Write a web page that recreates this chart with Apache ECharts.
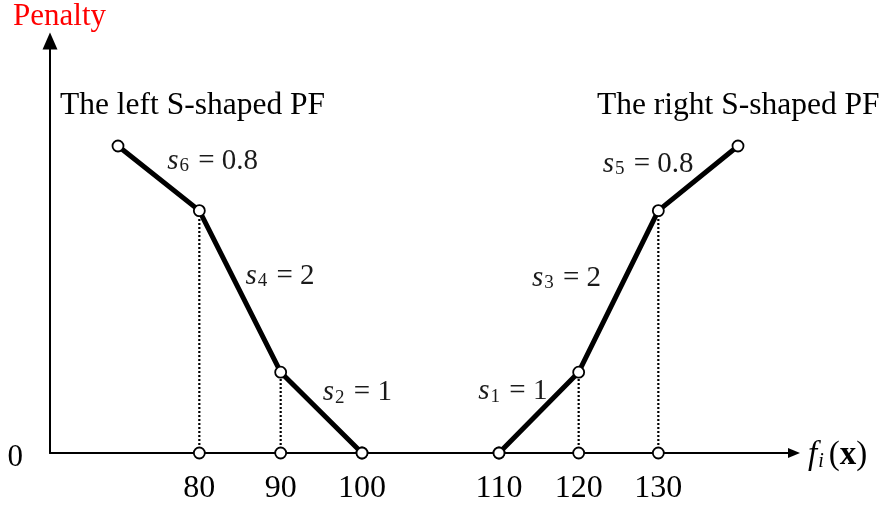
<!DOCTYPE html>
<html>
<head>
<meta charset="utf-8">
<script src="https://cdn.jsdelivr.net/npm/echarts@6/dist/echarts.min.js"></script>
<style>
  html, body { margin: 0; padding: 0; background: #fff; }
  #chart { width: 884px; height: 508px; }
</style>
</head>
<body>
<div id="chart"></div>
<script>
// Piecewise-linear S-shaped penalty functions (PF) of f_i(x)
const leftX = [70, 80, 90, 100];
const leftPenalty = [38, 30, 10, 0];
const rightX = [110, 120, 130, 140];
const rightPenalty = [0, 10, 30, 38];

// tick labels on the f_i(x) axis
const leftTicks = [80, 90, 100];
const rightTicks = [110, 120, 130];
const yTicks = [0];

// slope of each segment, left to right
const leftSlopeIndex = [6, 4, 2];
const leftSlopes = ['0.8', '2', '1'];
const rightSlopeIndex = [1, 3, 5];
const rightSlopes = ['1', '2', '0.8'];

const penaltyMax = 51;

const FONT = '"Liberation Serif", "Times New Roman", serif';

// label placement relative to each segment midpoint [dx, dy]
const leftLabelOffsets = [[54, -17], [40, -15], [36, -20]];
const rightLabelOffsets = [[-26, -21], [-52, -13], [-50, -14]];

const chart = echarts.init(document.getElementById('chart'), null, { renderer: 'canvas' });

const zip = (xs, ys) => xs.map((x, i) => [x, ys[i]]);
const valueAt = (xs, ys, x) => ys[xs.indexOf(x)];

const pointStyle = { color: '#fff', borderColor: '#000', borderWidth: 1.8, opacity: 1 };

function pfSeries(xs, ys, axis) {
  return {
    type: 'line',
    xAxisIndex: axis, yAxisIndex: axis,
    data: zip(xs, ys),
    clip: false,
    z: 5,
    symbol: 'circle', symbolSize: 11,
    lineStyle: { color: '#000', width: 5 },
    itemStyle: pointStyle,
    silent: true,
    animation: false
  };
}

function dropSeries(xs, ys, ticks, axis) {
  return ticks
    .filter(t => valueAt(xs, ys, t) > 0)
    .map(t => ({
      type: 'line',
      xAxisIndex: axis, yAxisIndex: axis,
      data: [[t, 0], [t, valueAt(xs, ys, t)]],
      showSymbol: false,
      clip: false,
      z: 3,
      lineStyle: { color: '#000', width: 2.2, type: [2, 2] },
      silent: true,
      animation: false
    }));
}

function tickMarks(ticks, axis) {
  return {
    type: 'scatter',
    xAxisIndex: axis, yAxisIndex: axis,
    data: ticks.map(t => [t, 0]),
    clip: false,
    z: 6,
    symbol: 'circle', symbolSize: 11,
    itemStyle: pointStyle,
    silent: true,
    animation: false
  };
}

const slopeRich = {
  s: { fontFamily: FONT, fontStyle: 'italic', fontSize: 29, lineHeight: 29, verticalAlign: 'top', color: '#1a1a1a' },
  sub: { fontFamily: FONT, fontSize: 19, lineHeight: 19, padding: [18, 2, 0, 1], verticalAlign: 'bottom', color: '#1a1a1a' },
  t: { fontFamily: FONT, fontSize: 29, lineHeight: 29, verticalAlign: 'top', color: '#1a1a1a' }
};

function slopeLabels(xs, ys, idx, slopes, offsets, axis) {
  const data = idx.map((k, i) => ({
    value: [(xs[i] + xs[i + 1]) / 2, (ys[i] + ys[i + 1]) / 2],
    label: {
      offset: offsets[i],
      formatter: '{s|s}{sub|' + k + '}{t| = ' + slopes[i] + '}'
    }
  }));
  return {
    type: 'scatter',
    xAxisIndex: axis, yAxisIndex: axis,
    data: data,
    symbolSize: 0,
    clip: false,
    z: 7,
    itemStyle: { opacity: 1 },
    label: { show: true, position: 'inside', color: '#1a1a1a', textBorderWidth: 0, rich: slopeRich },
    silent: true,
    animation: false
  };
}

const gridBox = { top: 41, bottom: 55 };

const titleStyle = { fontFamily: FONT, fontSize: 31.5, fontWeight: 'normal', color: '#000', lineHeight: 32 };

const option = {
  backgroundColor: '#fff',
  animation: false,
  title: [
    { text: 'The left S-shaped PF', left: 60, top: 90, padding: 0, textStyle: titleStyle },
    { text: 'The right S-shaped PF', left: 597, top: 90, padding: 0, textStyle: titleStyle }
  ],
  grid: [
    Object.assign({ left: 50, right: 90 }, gridBox),
    Object.assign({ left: 118, width: 244 }, gridBox),
    Object.assign({ left: 499, width: 239 }, gridBox)
  ],
  xAxis: [
    {
      gridIndex: 0, type: 'value', min: 0, max: 1,
      axisLine: { show: true, symbol: ['none', 'triangle'], symbolSize: [10, 12], lineStyle: { color: '#000', width: 2 } },
      axisTick: { show: false }, axisLabel: { show: false }, splitLine: { show: false },
      name: '{f|f}{i|i}{p|(}{x|x}{p|)}',
      nameLocation: 'end', nameGap: 14,
      nameTextStyle: {
        align: 'left', verticalAlign: 'middle', padding: [4, 0, 0, 0],
        rich: {
          f: { fontFamily: FONT, fontStyle: 'italic', fontSize: 33, lineHeight: 33, verticalAlign: 'top', color: '#000' },
          i: { fontFamily: FONT, fontStyle: 'italic', fontSize: 20, lineHeight: 20, padding: [18, 5, 0, 1], verticalAlign: 'bottom', color: '#000' },
          p: { fontFamily: FONT, fontSize: 33, lineHeight: 33, verticalAlign: 'top', color: '#000' },
          x: { fontFamily: FONT, fontWeight: 'bold', fontSize: 33, lineHeight: 33, verticalAlign: 'top', color: '#000' }
        }
      }
    },
    {
      gridIndex: 1, type: 'value', min: 70, max: 100,
      axisLine: { show: false }, axisTick: { show: false }, splitLine: { show: false },
      axisLabel: { customValues: leftTicks, fontFamily: FONT, fontSize: 32, color: '#000', margin: 20 }
    },
    {
      gridIndex: 2, type: 'value', min: 110, max: 140,
      axisLine: { show: false }, axisTick: { show: false }, splitLine: { show: false },
      axisLabel: { customValues: rightTicks, fontFamily: FONT, fontSize: 32, color: '#000', margin: 20 }
    }
  ],
  yAxis: [
    {
      gridIndex: 0, type: 'value', min: 0, max: penaltyMax,
      axisLine: { show: true, symbol: ['none', 'triangle'], symbolSize: [15, 17], lineStyle: { color: '#000', width: 2 } },
      axisTick: { show: false }, splitLine: { show: false },
      axisLabel: { customValues: yTicks, fontFamily: FONT, fontSize: 31, color: '#000', margin: 27, verticalAlign: 'top', lineHeight: 10 },
      name: 'Penalty', nameLocation: 'end', nameGap: 24,
      nameTextStyle: { fontFamily: FONT, fontSize: 31, color: '#ff0000', align: 'center', verticalAlign: 'middle', padding: [0, 0, 0, 19] }
    },
    { gridIndex: 1, type: 'value', min: 0, max: penaltyMax, show: false },
    { gridIndex: 2, type: 'value', min: 0, max: penaltyMax, show: false }
  ],
  series: [
    ...dropSeries(leftX, leftPenalty, leftTicks, 1),
    ...dropSeries(rightX, rightPenalty, rightTicks, 2),
    pfSeries(leftX, leftPenalty, 1),
    pfSeries(rightX, rightPenalty, 2),
    tickMarks(leftTicks, 1),
    tickMarks(rightTicks, 2),
    slopeLabels(leftX, leftPenalty, leftSlopeIndex, leftSlopes, leftLabelOffsets, 1),
    slopeLabels(rightX, rightPenalty, rightSlopeIndex, rightSlopes, rightLabelOffsets, 2)
  ]
};

chart.setOption(option);
</script>
</body>
</html>
